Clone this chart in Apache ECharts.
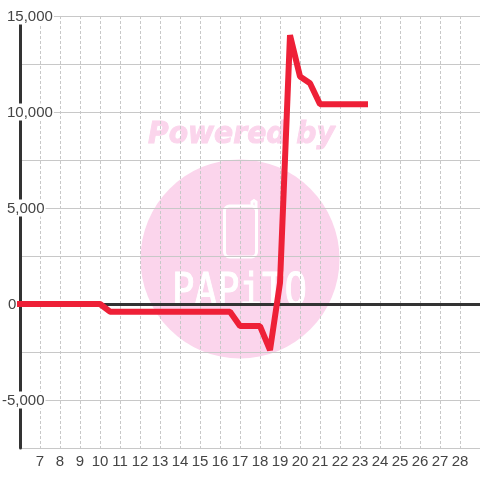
<!DOCTYPE html>
<html>
<head>
<meta charset="utf-8">
<style>
  html, body { margin: 0; padding: 0; background: #fff; }
  #graph1 { width: 480px; height: 480px; }
</style>
<script src="https://cdn.jsdelivr.net/npm/echarts@6/dist/echarts.min.js"></script>
</head>
<body>
<div id="graph1"></div>
<script>
var xData = [5.85, 10, 10.5, 16.5, 17, 18, 18.5, 19, 19.5, 20, 20.5, 21, 23.4];
var yData = [0, 0, -400, -400, -1150, -1150, -2400, 1100, 14000, 11850, 11500, 10400, 10400];
var yLabels = [15000, 10000, 5000, 0, -5000];
var xMin = 6, xMax = 29;
var yMin = -7500, yMax = 15000;

var lineData = [];
for (var i in xData) {
  lineData[i] = [xData[i], yData[i]];
}

/* y labels have their own offsets in the reference */
function yLabelText(v) {
  if (yLabels.indexOf(v) < 0) return '';
  var s = v.toLocaleString('en-US');
  if (v === 0) return '{zero|0}';
  if (v < 0) return '{neg|' + s + '}';
  if (v < 10000) return '{four|' + s + '}';
  return '{five|' + s + '}';
}

var myChart = echarts.init(document.getElementById('graph1'));
var labelFont = { fontFamily: 'Liberation Sans', fontSize: 15, color: '#444', backgroundColor: '#fff', lineHeight: 14 };

var option = {
  animation: false,
  backgroundColor: '#fff',
  grid: { left: 20, right: 0, top: 16, bottom: 32, outerBoundsMode: 'none' },
  xAxis: [
    {
      type: 'value', min: xMin, max: xMax, interval: 1,
      position: 'bottom',
      axisLine: { show: false, onZero: false },
      axisTick: { show: false },
      axisLabel: {
        margin: 6, fontFamily: 'Liberation Sans', fontSize: 15, color: '#444',
        formatter: function (v) { return (v === xMin || v === xMax) ? '' : String(v); }
      },
      splitLine: { show: true, lineStyle: { color: '#c8c8c8', width: 1, type: [3, 2] } }
    },
    {
      // 0 line
      type: 'value', min: xMin, max: xMax, interval: 1,
      position: 'top',
      axisLine: { show: true, onZero: true, lineStyle: { color: '#333', width: 3 } },
      axisTick: { show: false },
      axisLabel: { show: false },
      splitLine: { show: false }
    }
  ],
  yAxis: {
    type: 'value', min: yMin, max: yMax, interval: 2500,
    axisLine: { show: true, onZero: false, lineStyle: { color: '#333', width: 3 } },
    axisTick: { show: false },
    axisLabel: {
      align: 'left', margin: 18,
      formatter: yLabelText,
      rich: {
        five: Object.assign({ padding: [2, 1, 0, 5] }, labelFont),
        four: Object.assign({ padding: [2, 1, 0, 5] }, labelFont),
        zero: Object.assign({ padding: [2, 1, 0, 6] }, labelFont),
        neg: Object.assign({ padding: [2, 1, 0, 0] }, labelFont)
      }
    },
    splitLine: { show: true, lineStyle: { color: '#c8c8c8', width: 1 } }
  },
  graphic: [
    { type: 'circle', z: -10, shape: { cx: 240, cy: 259, r: 99.5 }, style: { fill: '#fbd5ec' } },
    {
      type: 'text', z: -10, x: 148, y: 119, scaleX: 0.91,
      style: { text: 'Powered by', fill: '#fbd5ec', stroke: '#fbd5ec', lineWidth: 1, font: 'italic bold 31px "DejaVu Sans"' }
    },
    {
      type: 'rect', z: -9,
      shape: { x: 224.5, y: 206, width: 32, height: 51, r: 5 },
      style: { fill: 'none', stroke: '#fff', lineWidth: 3 }
    },
    {
      type: 'polyline', z: -9,
      shape: { points: [[252, 206], [252, 202], [254, 200.5], [256, 202], [256, 210]] },
      style: { fill: 'none', stroke: '#fff', lineWidth: 3 }
    },
    {
      type: 'text', z: -9, x: 172, y: 271, scaleX: 0.83,
      style: { text: 'PAPiTO', fill: '#fff', stroke: '#fff', lineWidth: 1, font: '45px "DejaVu Sans Mono"' }
    }
  ],
  series: [
    {
      type: 'line',
      xAxisIndex: 0,
      data: lineData,
      clip: false,
      showSymbol: false,
      symbol: 'none',
      lineStyle: { color: '#ee2037', width: 6, join: 'bevel', cap: 'butt' }
    }
  ]
};
myChart.setOption(option);
</script>
</body>
</html>
